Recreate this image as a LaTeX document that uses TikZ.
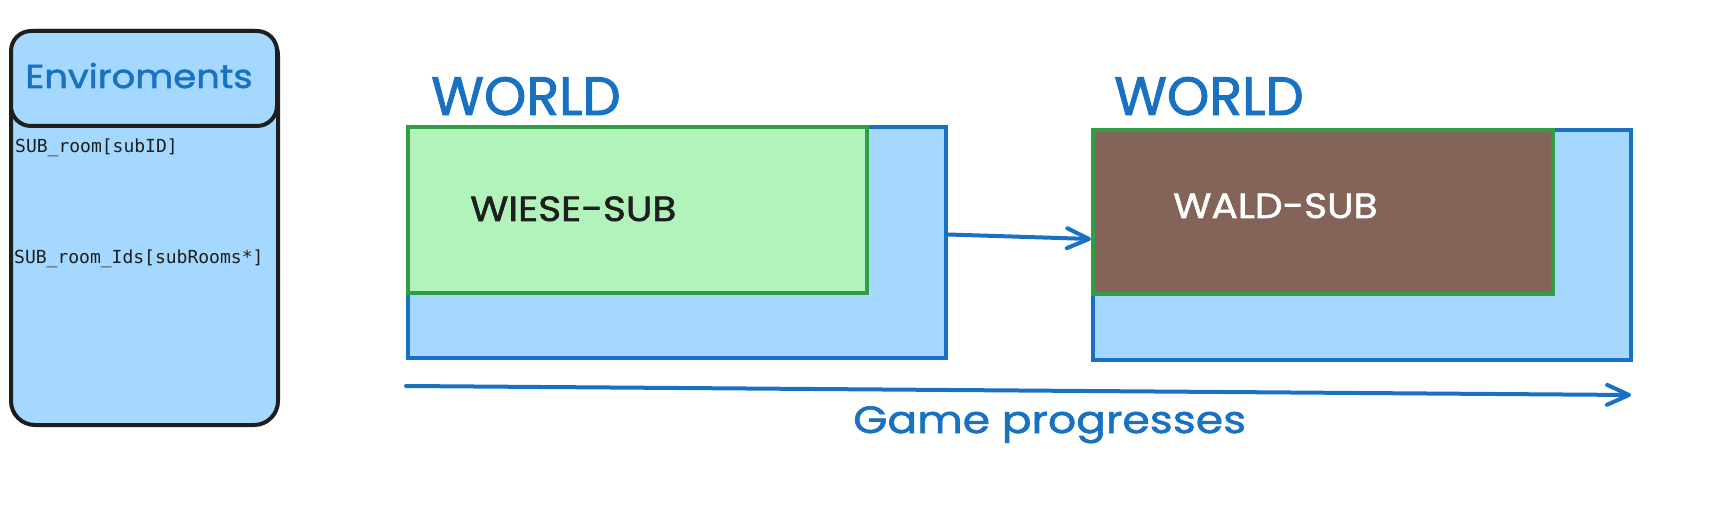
\documentclass[tikz,border=0pt]{standalone}
\usepackage{fontspec}
\setmainfont{Poppins}
\newfontfamily\hand[FakeBold=1.6]{Poppins}
\newfontfamily\handw[FakeBold=1.6, FakeStretch=1.12]{Poppins}
\newfontfamily\handg[FakeBold=1.6, FakeStretch=1.16]{Poppins}
\newfontfamily\mono{DejaVu Sans Mono}
\usetikzlibrary{arrows.meta}
\definecolor{exblue}{HTML}{1971C2}
\definecolor{exlight}{HTML}{A5D8FF}
\definecolor{exgreen}{HTML}{2F9E44}
\definecolor{exlgreen}{HTML}{B2F2BB}
\definecolor{exbrown}{HTML}{846358}
\definecolor{exblack}{HTML}{1E1E1E}
\tikzset{
  worldbox/.style={draw=exblue, fill=exlight, line width=4pt, anchor=north west, inner sep=0pt},
  subbox/.style={draw=exgreen, line width=4pt, anchor=north west, inner sep=0pt},
  envbox/.style={draw=exblack, fill=exlight, line width=4pt, rounded corners=24pt, anchor=north west, inner sep=0pt},
  bigtitle/.style={text=exblue, font=\hand\fontsize{54}{60}\selectfont, inner sep=0pt, anchor=base west},
  subtitle/.style={font=\handw\fontsize{35}{42}\selectfont, inner sep=0pt, anchor=base west},
  codetext/.style={text=exblack, font=\mono\fontsize{18}{22}\selectfont, inner sep=0pt, anchor=base west},
  flow/.style={draw=exblue, line width=4pt, line cap=round, -{Straight Barb[length=22pt, width=20pt, line width=4pt, round]}},
}
\begin{document}
\begin{tikzpicture}[x=1pt, y=-1pt]
\useasboundingbox (0,0) rectangle (1711,505);
% left environment panel
\node[envbox, minimum width=267pt, minimum height=394pt] (env) at (9,29) {};
\node[envbox, rounded corners=20pt, minimum width=266pt, minimum height=95pt] (envhead) at (9,29) {};
\node[text=exblue, font=\handw\fontsize{33}{40}\selectfont, inner sep=0pt, anchor=base] (envtitle) at (139,88) {Enviroments};
\node[codetext] (code1) at (15,153) {SUB\_room[subID]};
\node[codetext] (code2) at (14,263) {SUB\_room\_Ids[subRooms*]};
% world 1
\node[worldbox, minimum width=538pt, minimum height=231pt] (w1) at (406,125) {};
\node[subbox, fill=exlgreen, minimum width=459pt, minimum height=166pt] (s1) at (406,125) {};
\node[bigtitle] (t1) at (431,115) {WORLD};
\node[subtitle, text=exblack] (l1) at (470,221) {WIESE-SUB};
% world 2
\node[worldbox, minimum width=538pt, minimum height=230pt] (w2) at (1091,128) {};
\node[subbox, fill=exbrown, minimum width=460pt, minimum height=164pt] (s2) at (1091,128) {};
\node[bigtitle] (t2) at (1114,115) {WORLD};
\node[subtitle, text=white] (l2) at (1173,218) {WALD-SUB};
% arrows
\draw[flow] ([yshift=8pt]w1.east) -- ([yshift=6pt]w2.west);
\coordinate (ps) at (406,386);
\coordinate (pe) at (1631,395);
\draw[flow] (ps) -- (pe);
\node[text=exblue, font=\handg\fontsize{38}{44}\selectfont, inner sep=0pt, anchor=base west] (gp) at (853,433) {Game progresses};
\end{tikzpicture}
\end{document}
